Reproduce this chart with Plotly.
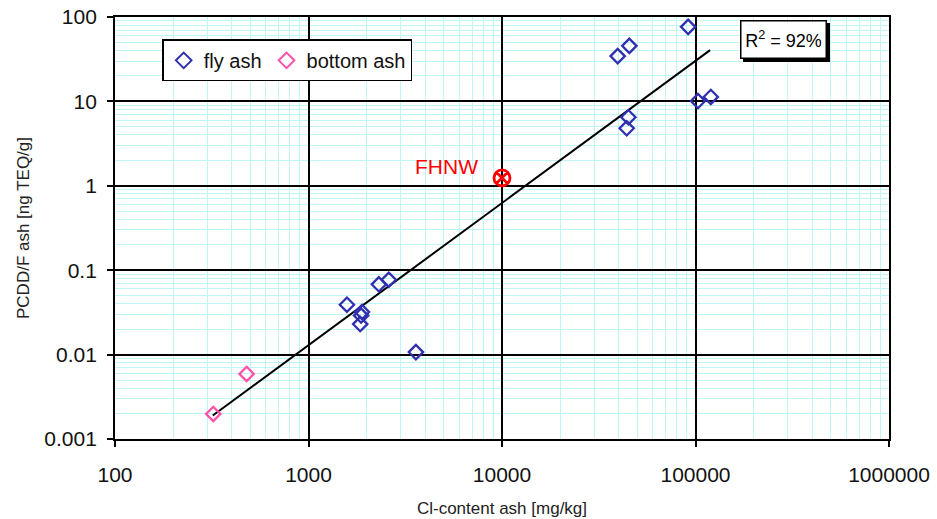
import math
import plotly.graph_objects as go

# Fly ash samples: Cl content [mg/kg] vs PCDD/F [ng TEQ/g]
fly_cl = [91600, 45500, 39600, 103000, 120000, 45000, 44100,
          1580, 2310, 2600, 1890, 1870, 1850, 3590]
fly_pcdd = [76.4, 45.5, 34.4, 10.1, 11.3, 6.5, 4.8,
            0.039, 0.068, 0.077, 0.032, 0.029, 0.023, 0.0107]

# Bottom ash samples
bottom_cl = [322, 479]
bottom_pcdd = [0.00198, 0.0059]

# FHNW measurement
fhnw_cl = [10000]
fhnw_pcdd = [1.24]

# Power-law trend line end points
trend_cl = [320, 119000]
trend_pcdd = [0.0019, 40.5]

x_tickvals = [100, 1000, 10000, 100000, 1000000]
x_ticktext = ["100", "1000", "10000", "100000", "1000000"]
y_tickvals = [0.001, 0.01, 0.1, 1, 10, 100]
y_ticktext = ["0.001", "0.01", "0.1", "1", "10", "100"]

FONT = "Liberation Sans, Arial, sans-serif"
BLUE = "#2f2fb0"
PINK = "#ff4fa6"
GRID_MINOR = "#bff5f5"


def log_minor(decades):
    """Minor grid positions 2..9 within each decade."""
    return [m * 10.0 ** d for d in decades for m in range(2, 10)]


fig = go.Figure()

fig.add_trace(go.Scatter(
    x=trend_cl, y=trend_pcdd, mode="lines",
    line=dict(color="black", width=2), showlegend=False, hoverinfo="skip"))

fig.add_trace(go.Scatter(
    x=fly_cl, y=fly_pcdd, mode="markers", name="fly ash",
    marker=dict(symbol="diamond-open", size=11, color=BLUE, line=dict(width=2.3, color=BLUE))))

fig.add_trace(go.Scatter(
    x=bottom_cl, y=bottom_pcdd, mode="markers", name="bottom ash",
    marker=dict(symbol="diamond-open", size=11, color=PINK, line=dict(width=2.3, color=PINK))))

fig.add_trace(go.Scatter(
    x=fhnw_cl, y=fhnw_pcdd, mode="markers", showlegend=False,
    marker=dict(symbol="circle-x-open", size=16, color="#ff0000", line=dict(width=2.8, color="#ff0000"))))

# annotations on log axes take log10 positions
fig.add_annotation(x=math.log10(fhnw_cl[0]), y=math.log10(fhnw_pcdd[0]), xref="x", yref="y",
                   text="FHNW", showarrow=False, xanchor="right", yanchor="middle",
                   xshift=-22, yshift=11, font=dict(family=FONT, size=21, color="#ff0000"))

# R² box with drop shadow
for shift, bg in ((3, "black"), (0, "white")):
    fig.add_annotation(xref="paper", yref="paper", x=0.864, y=0.946,
                       xanchor="center", yanchor="middle",
                       xshift=shift, yshift=-shift,
                       text="R<sup>2</sup> = 92%", showarrow=False,
                       width=76, height=28, borderpad=4,
                       bgcolor=bg, bordercolor="black", borderwidth=1.5,
                       font=dict(family=FONT, size=18, color="black"))

axis_common = dict(
    type="log", automargin=False,
    showline=True, linecolor="black", linewidth=1.8, mirror=True,
    showgrid=True, gridcolor="black", gridwidth=1.8,
    ticks="outside", ticklen=6, tickcolor="black", tickwidth=1.5,
    tickfont=dict(family=FONT, size=21, color="#111111"),
)

fig.update_xaxes(range=[2, 6], tickvals=x_tickvals, ticktext=x_ticktext,
                 minor=dict(tickvals=log_minor(range(2, 6)), showgrid=True,
                            gridcolor=GRID_MINOR, gridwidth=1.3, ticks=""),
                 title=dict(text="Cl-content ash [mg/kg]", standoff=17,
                            font=dict(family=FONT, size=17, color="#222222")),
                 ticklabelstandoff=10, **axis_common)
fig.update_yaxes(range=[-3, 2], tickvals=y_tickvals, ticktext=y_ticktext,
                 minor=dict(tickvals=log_minor(range(-3, 2)), showgrid=True,
                            gridcolor=GRID_MINOR, gridwidth=1.3, ticks=""),
                 title=dict(text="PCDD/F ash [ng TEQ/g]", standoff=10,
                            font=dict(family=FONT, size=17, color="#222222")),
                 ticklabelstandoff=6, **axis_common)

fig.update_layout(
    width=937, height=519,
    margin=dict(l=114.5, r=47.5, t=17, b=79.5),
    paper_bgcolor="white", plot_bgcolor="white",
    font=dict(family=FONT),
    legend=dict(orientation="h", x=0.061, y=0.947, xanchor="left", yanchor="top",
                bgcolor="white", bordercolor="black", borderwidth=1.5,
                font=dict(family=FONT, size=20, color="#111111"),
                itemwidth=30, tracegroupgap=0, itemsizing="constant"),
)

fig.write_html("out.html")
